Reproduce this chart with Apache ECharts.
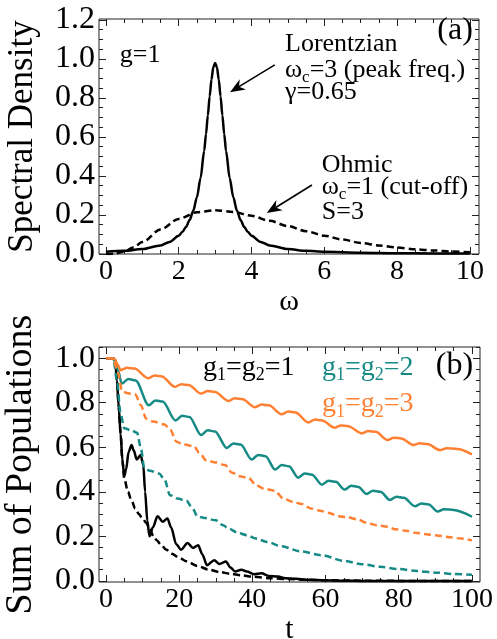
<!DOCTYPE html>
<html><head><meta charset="utf-8">
<script src="https://cdn.jsdelivr.net/npm/echarts@6/dist/echarts.min.js"></script>
<style>html,body{margin:0;padding:0;background:#fff}#c{width:497px;height:639px}</style>
</head><body><div id="c"></div>
<script>
// ---------- Panel (a): spectral densities ----------
const omegaL = [0,0.5,1,1.5,1.75,2,2.1,2.2,2.3,2.4,2.5,2.6,2.7,2.75,2.8,2.85,2.9,2.95,3,3.05,3.1,3.15,3.2,3.25,3.3,3.4,3.5,3.6,3.7,3.8,3.9,4,4.25,4.5,5,5.5,6,7,8,9,10];
const lorentzianJ = [0.0114,0.0163,0.0252,0.0439,0.062,0.0936,0.113,0.1387,0.1737,0.2222,0.2909,0.3895,0.5289,0.6154,0.7105,0.8076,0.8949,0.957,0.979,0.957,0.8949,0.8076,0.7105,0.6154,0.5289,0.3895,0.2909,0.2222,0.1737,0.1387,0.113,0.0936,0.062,0.0439,0.0252,0.0163,0.0114,0.0064,0.0041,0.0029,0.0021];
const omegaO = [0,0.25,0.5,0.75,1,1.5,2,2.5,3,3.5,4,4.5,5,5.5,6,6.5,7,7.5,8,8.5,9,9.5,10];
const ohmicJ = [0,0.002,0.013,0.033,0.061,0.126,0.18,0.214,0.224,0.216,0.196,0.17,0.143,0.117,0.094,0.074,0.057,0.044,0.033,0.024,0.018,0.013,0.009];
const xTicksA = [0,2,4,6,8,10];
const yTicksA = [0,0.2,0.4,0.6,0.8,1.0,1.2];

// ---------- Panel (b): sum of populations ----------
const tBlackS = [0,2,2.5,3,3.5,4,4.5,5,5.5,6.2,7,7.6,8.4,9.5,10.2,10.7,11.3,11.9,12.8,14.1,15.5,16.8,17.8,19.2,20.5,22.3,23.8,25.2,26.3,27.6,29.6,31,32.8,34,35.3,37,38.5,40.5,42.5,44.5,47,49,52,55,60,65,70,100];
const pBlackS = [1,1,0.99,0.9,0.78,0.66,0.54,0.47,0.5,0.58,0.61,0.585,0.545,0.565,0.52,0.4,0.27,0.2,0.24,0.29,0.266,0.28,0.24,0.165,0.14,0.17,0.148,0.16,0.12,0.07,0.093,0.076,0.087,0.06,0.042,0.05,0.042,0.03,0.034,0.022,0.02,0.012,0.01,0.005,0.003,0.001,0,0];
const tBlackD = [0,2,2.5,3,3.5,4,4.5,5,6,7,8,9,10,11,12,13,14,15,16.5,18,20,22,25,28,31,34,37,40,45,50,55,60,70,80,100];
const pBlackD = [1,1,0.99,0.9,0.78,0.66,0.54,0.46,0.4,0.36,0.325,0.3,0.28,0.26,0.23,0.2,0.18,0.163,0.14,0.122,0.104,0.088,0.067,0.051,0.04,0.032,0.025,0.019,0.012,0.008,0.005,0.003,0.001,0,0];
const tTealS = [0,1.5,2.5,3.3,4.3,6.1,8.1,11.7,13.5,15.5,19,20.8,22.8,26,27.8,29.8,33,34.8,36.8,39.8,41.6,43.6,46.2,48,50,52.5,54.3,56.3,59,60.8,62.8,65.2,67,69,71.2,73,75,77.6,79.4,81.4,84.4,86.2,88.2,90.6,92.4,95,100];
const pTealS = [1,1,0.99,0.945,0.886,0.906,0.9,0.788,0.81,0.805,0.72,0.741,0.736,0.655,0.676,0.671,0.597,0.617,0.612,0.545,0.565,0.56,0.5,0.52,0.515,0.463,0.482,0.477,0.432,0.45,0.445,0.41,0.427,0.422,0.39,0.405,0.4,0.363,0.378,0.373,0.335,0.347,0.343,0.311,0.322,0.318,0.288];
const tTealD = [0,2,3,4,5,7,8.5,9.5,10.5,12,14.5,16,17.5,19.5,22,23.5,25,27,30,32,33.5,36,38.5,41,44,48,53,59,65,70,75,80,85,90,95,100];
const pTealD = [1,1,0.9,0.75,0.685,0.675,0.665,0.6,0.505,0.495,0.482,0.455,0.385,0.37,0.36,0.33,0.29,0.282,0.272,0.25,0.235,0.216,0.205,0.19,0.175,0.155,0.133,0.115,0.09,0.075,0.063,0.053,0.044,0.037,0.031,0.027];
const tOrangeS = [0,1.5,2.5,3.2,4,5.8,7.8,11.5,13.3,15.3,18.8,20.6,22.6,26,27.8,29.8,33.4,35.2,37.2,40.7,42.5,44.5,48,49.8,51.8,55.3,57.1,59.1,62.4,64.2,66.2,69.9,71.7,73.7,76.9,78.7,80.7,84,85.8,87.8,91.3,93.1,96,100];
const pOrangeS = [1,1,0.995,0.97,0.946,0.957,0.953,0.91,0.922,0.918,0.871,0.883,0.879,0.841,0.852,0.848,0.808,0.82,0.816,0.78,0.792,0.788,0.748,0.76,0.756,0.711,0.724,0.72,0.688,0.698,0.694,0.662,0.673,0.669,0.632,0.643,0.639,0.61,0.618,0.614,0.587,0.596,0.592,0.568];
const tOrangeD = [0,2,3,4.5,6,8,9.5,11,13,16,17.5,19.3,21,24,25.5,27.5,30,32.5,34.5,36.5,39,41,43,46,48.5,51,53.5,56,58.5,61,63.5,66,69,71,74,77,79,82,85,88,91,94,97,100];
const pOrangeD = [1,1,0.95,0.85,0.842,0.838,0.79,0.728,0.715,0.702,0.68,0.625,0.613,0.605,0.575,0.54,0.532,0.52,0.485,0.47,0.462,0.43,0.415,0.405,0.37,0.355,0.345,0.325,0.315,0.305,0.29,0.285,0.275,0.262,0.25,0.243,0.232,0.225,0.215,0.208,0.203,0.196,0.19,0.182];
const xTicksB = [0,20,40,60,80,100];
const yTicksB = [0,0.2,0.4,0.6,0.8,1.0];

const SERIF = 'Liberation Serif';
const ORANGE = '#ff8033';
const TEAL = '#168a84';
const zip = (a, b) => a.map((v, i) => [v, b[i]]);
const range = (a, b, s) => { const r = []; for (let k = 0; a + k * s <= b + 1e-9; k++) r.push(+(a + k * s).toFixed(4)); return r; };
const minorOf = (all, majors) => all.filter(v => !majors.some(m => Math.abs(m - v) < 1e-6));

function axesFor(dim, g, min, max, majors, minors, name, nameGap, nameSize, labelSize, labelFmt) {
  const posA = dim === 'x' ? 'bottom' : 'left';
  const posB = dim === 'x' ? 'top' : 'right';
  const base = { gridIndex: g, type: 'value', min, max, axisLine: { show: false, onZero: false }, splitLine: { show: false } };
  const tickStyle = { color: '#222', width: 1 };
  const major = { inside: true, length: 7, customValues: majors, lineStyle: tickStyle };
  const minor = { inside: true, length: 4, customValues: minors, lineStyle: tickStyle };
  return [
    Object.assign({}, base, {
      position: posA, name, nameLocation: 'middle', nameGap,
      nameTextStyle: { fontFamily: SERIF, fontSize: nameSize, color: '#000' },
      axisTick: major,
      axisLabel: { customValues: majors, fontFamily: SERIF, fontSize: labelSize, color: '#000', margin: 4, formatter: labelFmt }
    }),
    Object.assign({}, base, { position: posA, axisTick: minor, axisLabel: { show: false } }),
    Object.assign({}, base, { position: posB, axisTick: major, axisLabel: { show: false } }),
    Object.assign({}, base, { position: posB, axisTick: minor, axisLabel: { show: false } })
  ];
}

const fmt1 = v => v.toFixed(1);
const fmt0 = v => String(Math.round(v));

const xA = axesFor('x', 0, -0.19, 10.25, xTicksA, minorOf(range(0, 10, 0.5), xTicksA), 'ω', 15, 30, 28, fmt0);
const yA = axesFor('y', 0, 0, 1.205, yTicksA, minorOf(range(0, 1.2, 0.05), yTicksA), 'Spectral Density', 59, 35, 32, fmt1);
const xB = axesFor('x', 1, -1.9, 102.2, xTicksB, minorOf(range(0, 100, 5), xTicksB), 't', 19, 30, 28, fmt0);
const yB = axesFor('y', 1, -0.005, 1.05, yTicksB, minorOf(range(0, 1.05, 0.05), yTicksB), 'Sum of Populations', 59, 38, 32, fmt1);

function line(xi, data, color, dashed) {
  return {
    type: 'line', xAxisIndex: xi, yAxisIndex: xi, data, showSymbol: false, symbol: 'none',
    smooth: 0.3, smoothMonotone: 'x', silent: true, animation: false, clip: true,
    lineStyle: { color, width: 2.5, type: dashed ? [7, 4] : 'solid' }
  };
}

const chart = echarts.init(document.getElementById('c'), null, { renderer: 'canvas' });
chart.setOption({
  backgroundColor: '#fff',
  animation: false,
  textStyle: { fontFamily: SERIF },
  grid: [
    { left: 99, top: 19, width: 380, height: 235, show: true, borderColor: '#222', borderWidth: 1, outerBoundsMode: 'none' },
    { left: 99, top: 347, width: 381, height: 235, show: true, borderColor: '#222', borderWidth: 1, outerBoundsMode: 'none' }
  ],
  xAxis: xA.concat(xB),
  yAxis: yA.concat(yB),
  series: [
    line(0, zip(omegaO, ohmicJ), '#000', true),
    line(0, zip(omegaL, lorentzianJ), '#000', false),
    line(4, zip(tBlackD, pBlackD), '#000', true),
    line(4, zip(tBlackS, pBlackS), '#000', false),
    line(4, zip(tTealD, pTealD), TEAL, true),
    line(4, zip(tTealS, pTealS), TEAL, false),
    line(4, zip(tOrangeD, pOrangeD), ORANGE, true),
    line(4, zip(tOrangeS, pOrangeS), ORANGE, false)
  ]
});

// ---------- annotations, anchored in data coordinates ----------
const px = (g, x, y) => chart.convertToPixel({ gridIndex: g }, [x, y]);
function txt(g, x, y, text, size, color, align) {
  const p = px(g, x, y);
  return {
    type: 'text', x: p[0], y: p[1], silent: true,
    style: { text, fontFamily: SERIF, fontSize: size, fill: color, align: align || 'left', verticalAlign: 'middle' }
  };
}
function richTxt(g, x, y, text, size, color) {
  const p = px(g, x, y);
  return {
    type: 'text', x: p[0], y: p[1], silent: true,
    style: {
      text, fill: color, align: 'left', verticalAlign: 'middle', fontFamily: SERIF, fontSize: size,
      rich: {
        m: { fontFamily: SERIF, fontSize: size, fill: color, lineHeight: 26, verticalAlign: 'bottom' },
        s: { fontFamily: SERIF, fontSize: Math.round(size * 0.64), fill: color, lineHeight: 26, verticalAlign: 'bottom', padding: [0, 0, -3, 0] }
      }
    }
  };
}
function arrow(g, from, to) {
  const a = px(g, from[0], from[1]), b = px(g, to[0], to[1]);
  const dx = b[0] - a[0], dy = b[1] - a[1], L = Math.hypot(dx, dy);
  const ux = dx / L, uy = dy / L, nx = -uy, ny = ux;
  const len = 15, w = 6;
  const back = [b[0] - len * ux, b[1] - len * uy];
  const notch = [b[0] - 0.7 * len * ux, b[1] - 0.7 * len * uy];
  return [
    { type: 'line', silent: true, shape: { x1: a[0], y1: a[1], x2: notch[0], y2: notch[1] }, style: { stroke: '#000', lineWidth: 1.6 } },
    { type: 'polygon', silent: true, shape: { points: [b, [back[0] + w * nx, back[1] + w * ny], notch, [back[0] - w * nx, back[1] - w * ny]] }, style: { fill: '#000' } }
  ];
}

const gfx = [
  txt(0, 0.38, 1.02, 'g=1', 26, '#000'),
  txt(0, 10.08, 1.145, '(a)', 32, '#000', 'right'),
  txt(0, 4.92, 1.077, 'Lorentzian', 26, '#000'),
  richTxt(0, 4.92, 0.944, '{m|ω}{s|c}{m|=3 (peak freq.)}', 26, '#000'),
  txt(0, 4.92, 0.831, 'γ=0.65', 26, '#000'),
  txt(0, 5.93, 0.456, 'Ohmic', 26, '#000'),
  richTxt(0, 5.93, 0.344, '{m|ω}{s|c}{m|=1 (cut-off)}', 26, '#000'),
  txt(0, 5.93, 0.213, 'S=3', 26, '#000'),
  richTxt(1, 26.5, 0.955, '{m|g}{s|1}{m|=g}{s|2}{m|=1}', 28, '#000'),
  richTxt(1, 59, 0.955, '{m|g}{s|1}{m|=g}{s|2}{m|=2}', 28, TEAL),
  richTxt(1, 59, 0.79, '{m|g}{s|1}{m|=g}{s|2}{m|=3}', 28, ORANGE),
  txt(1, 100.3, 0.965, '(b)', 32, '#000', 'right')
].concat(arrow(0, [4.64, 0.97], [3.41, 0.83]), arrow(0, [5.66, 0.354], [4.42, 0.21]));

chart.setOption({ graphic: { elements: gfx } });
</script>
</body></html>
